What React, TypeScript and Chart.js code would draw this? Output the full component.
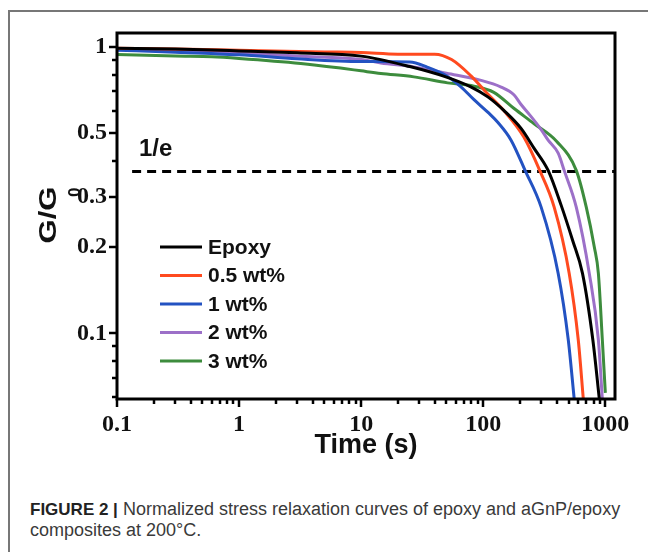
import { useEffect, useRef } from 'react';
import { Chart, registerables } from 'chart.js';

Chart.register(...registerables);

// ---- data ----
const epoxyTime = [0.1, 0.3, 1, 3, 10, 25, 48, 79, 109, 148, 204, 261, 340, 435, 540, 650, 790, 893];
const epoxyG = [0.99, 0.984, 0.97, 0.955, 0.93, 0.855, 0.79, 0.726, 0.67, 0.6, 0.52, 0.443, 0.371, 0.28, 0.211, 0.162, 0.095, 0.059];

const wt05Time = [0.1, 0.3, 1, 5, 10, 20, 40, 55, 79, 109, 150, 215, 290, 381, 506, 600, 660];
const wt05G = [0.99, 0.985, 0.975, 0.962, 0.957, 0.945, 0.945, 0.905, 0.795, 0.685, 0.595, 0.485, 0.371, 0.276, 0.162, 0.095, 0.059];

const wt1Time = [0.1, 0.3, 1, 3, 10, 25, 35, 51, 66, 84, 110, 132, 169, 220, 298, 411, 497, 556];
const wt1G = [0.975, 0.96, 0.94, 0.91, 0.89, 0.887, 0.85, 0.79, 0.725, 0.655, 0.59, 0.545, 0.473, 0.371, 0.276, 0.162, 0.095, 0.059];

const wt2Time = [0.1, 0.3, 1, 3, 10, 14.5, 27, 50, 96, 140, 179, 204, 240, 298, 340, 411, 460, 578, 739, 877, 945];
const wt2G = [0.983, 0.97, 0.953, 0.93, 0.905, 0.88, 0.853, 0.81, 0.765, 0.725, 0.68, 0.63, 0.58, 0.515, 0.473, 0.426, 0.371, 0.276, 0.162, 0.095, 0.059];

const wt3Time = [0.1, 0.3, 0.6, 1, 3.2, 7, 10, 14.5, 27, 51, 84, 122, 179, 261, 400, 578, 698, 813, 877, 945, 1000];
const wt3G = [0.943, 0.93, 0.925, 0.913, 0.877, 0.843, 0.826, 0.809, 0.787, 0.75, 0.73, 0.695, 0.61, 0.54, 0.468, 0.371, 0.276, 0.2, 0.162, 0.095, 0.062];

const seriesLabels = ['Epoxy', '0.5 wt%', '1 wt%', '2 wt%', '3 wt%'];
const seriesColors = ['#000000', '#ff4a1f', '#2352c2', '#9c70c8', '#3d8c3d'];
const seriesTimes = [epoxyTime, wt05Time, wt1Time, wt2Time, wt3Time];
const seriesValues = [epoxyG, wt05G, wt1G, wt2G, wt3G];

const xTicks = [0.1, 0.2, 0.3, 0.4, 0.5, 0.6, 0.7, 0.8, 0.9, 1, 2, 3, 4, 5, 6, 7, 8, 9, 10, 20, 30, 40, 50, 60, 70, 80, 90, 100, 200, 300, 400, 500, 600, 700, 800, 900, 1000];
const xLabeled = [0.1, 1, 10, 100, 1000];
const yTicks = [0.06, 0.07, 0.08, 0.09, 0.1, 0.2, 0.3, 0.4, 0.5, 0.6, 0.7, 0.8, 0.9, 1];
const yLabeled = [0.1, 0.2, 0.3, 0.5, 1];

const xMin = 0.1;
const xMax = 1200;
const yMin = 0.059;
const yMax = 1.12;

const oneOverE = 1 / Math.E;
const dashTimes = [0.133, 1200];

const SANS = "'Liberation Sans', Arial, Helvetica, sans-serif";
const SERIF = "'Liberation Serif', 'Times New Roman', Times, serif";

const decorPlugin = {
  id: 'decor',
  afterDraw(chart: any) {
    const { ctx, chartArea: a, scales } = chart;
    const xs = scales.x;
    const ys = scales.y;
    ctx.save();
    // frame
    ctx.strokeStyle = '#000';
    ctx.lineWidth = 3;
    ctx.strokeRect(a.left, a.top, a.right - a.left, a.bottom - a.top);
    // ticks
    ctx.lineWidth = 2.5;
    xTicks.forEach((v) => {
      const px = Math.round(xs.getPixelForValue(v));
      const len = xLabeled.includes(v) ? 8 : 5;
      ctx.beginPath();
      ctx.moveTo(px, a.bottom);
      ctx.lineTo(px, a.bottom + len);
      ctx.stroke();
    });
    yTicks.forEach((v) => {
      const py = Math.round(ys.getPixelForValue(v));
      const len = yLabeled.includes(v) ? 8 : 5;
      ctx.beginPath();
      ctx.moveTo(a.left, py);
      ctx.lineTo(a.left - len, py);
      ctx.stroke();
    });
    // legend
    ctx.font = `bold 21px ${SANS}`;
    ctx.textBaseline = 'middle';
    ctx.textAlign = 'left';
    let row = 0;
    chart.data.datasets.forEach((ds: any) => {
      if (ds.isRef) return;
      const y = a.top + 214 + row * 28.5;
      ctx.strokeStyle = ds.borderColor;
      ctx.lineWidth = 3;
      ctx.beginPath();
      ctx.moveTo(a.left + 43, y);
      ctx.lineTo(a.left + 85, y);
      ctx.stroke();
      ctx.fillStyle = '#111';
      ctx.fillText(ds.label, a.left + 91, y + 1);
      row++;
    });
    // 1/e label
    ctx.font = `bold 24px ${SANS}`;
    ctx.fillStyle = '#111';
    ctx.fillText('1/e', a.left + 22, ys.getPixelForValue(oneOverE) - 22);
    // x title
    ctx.font = `bold 27px ${SANS}`;
    ctx.textAlign = 'center';
    ctx.textBaseline = 'alphabetic';
    ctx.fillText('Time (s)', (a.left + a.right) / 2, 453);
    // y title G/G0
    ctx.save();
    ctx.translate(56, (a.top + a.bottom) / 2 - 1);
    ctx.rotate(-Math.PI / 2);
    ctx.scale(1.3, 1);
    ctx.font = `bold 24px ${SANS}`;
    ctx.textAlign = 'center';
    ctx.fillText('G/G', 0, 0);
    ctx.restore();
    ctx.save();
    ctx.translate(56, (a.top + a.bottom) / 2 - 1);
    ctx.rotate(-Math.PI / 2);
    ctx.font = `bold 17px ${SANS}`;
    ctx.textAlign = 'left';
    ctx.fillText('0', 18, 24);
    ctx.restore();
    ctx.restore();
  },
};

export default function App() {
  const canvasRef = useRef<HTMLCanvasElement | null>(null);

  useEffect(() => {
    if (!canvasRef.current) return;
    const datasets: any[] = seriesLabels.map((label, i) => ({
      label,
      data: seriesTimes[i].map((t, j) => ({ x: t, y: seriesValues[i][j] })),
      borderColor: seriesColors[i],
      backgroundColor: seriesColors[i],
      borderWidth: 3,
      pointRadius: 0,
      fill: false,
      cubicInterpolationMode: 'monotone',
    }));
    datasets.push({
      label: '1/e',
      isRef: true,
      data: dashTimes.map((t) => ({ x: t, y: oneOverE })),
      borderColor: '#000',
      borderWidth: 3,
      borderDash: [9, 6],
      pointRadius: 0,
      fill: false,
    });

    const chart = new Chart(canvasRef.current, {
      type: 'line',
      data: { datasets },
      options: {
        animation: false,
        responsive: false,
        maintainAspectRatio: false,
        devicePixelRatio: 1,
        layout: { padding: { left: 0, top: 33, right: 33, bottom: 0 } },
        plugins: {
          legend: { display: false },
          tooltip: { enabled: false },
        },
        scales: {
          x: {
            type: 'logarithmic',
            min: xMin,
            max: xMax,
            afterFit: (s: any) => {
              s.height = 71;
            },
            afterBuildTicks: (s: any) => {
              s.ticks = xTicks.map((v) => ({ value: v }));
            },
            grid: { display: false, drawTicks: false },
            border: { display: false },
            ticks: {
              autoSkip: false,
              maxRotation: 0,
              padding: 11,
              color: '#111',
              font: { family: SERIF, size: 24, weight: 'bold' },
              callback: (v: any) => (xLabeled.includes(v) ? String(v) : ''),
            },
          },
          y: {
            type: 'logarithmic',
            min: yMin,
            max: yMax,
            afterFit: (s: any) => {
              s.width = 117;
            },
            afterBuildTicks: (s: any) => {
              s.ticks = yTicks.map((v) => ({ value: v }));
            },
            grid: { display: false, drawTicks: false },
            border: { display: false },
            ticks: {
              autoSkip: false,
              padding: 10,
              color: '#111',
              font: { family: SERIF, size: 24, weight: 'bold' },
              callback: (v: any) => (yLabeled.includes(v) ? String(v) : ''),
            },
          },
        },
      } as any,
      plugins: [decorPlugin],
    });
    return () => chart.destroy();
  }, []);

  return (
    <div
      style={{
        position: 'absolute',
        left: 0,
        top: 0,
        width: 648,
        height: 552,
        overflow: 'hidden',
        background: '#ffffff',
      }}
    >
      <div
        style={{
          position: 'absolute',
          left: 8,
          top: 10,
          width: 700,
          height: 600,
          borderLeft: '2px solid #777',
          borderTop: '2px solid #777',
        }}
      />
      <canvas
        ref={canvasRef}
        width={648}
        height={470}
        style={{ position: 'absolute', left: 0, top: 0, width: 648, height: 470 }}
      />
      <div
        style={{
          position: 'absolute',
          left: 30,
          top: 499,
          width: 610,
          fontFamily: SANS,
          fontSize: 18,
          lineHeight: '21px',
          color: '#3a3a3a',
          whiteSpace: 'nowrap',
        }}
      >
        <span style={{ fontWeight: 'bold', fontSize: 17, color: '#222' }}>FIGURE 2 |</span> Normalized stress
        relaxation curves of epoxy and aGnP/epoxy
        <br />
        composites at 200°C.
      </div>
    </div>
  );
}
